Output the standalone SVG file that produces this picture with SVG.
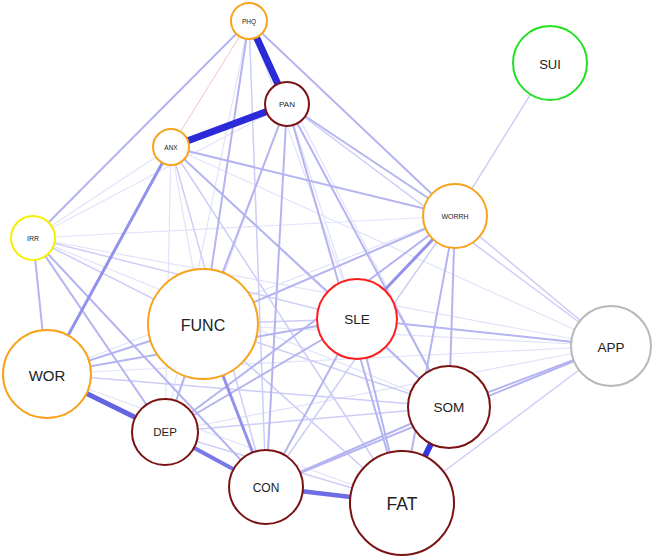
<svg xmlns="http://www.w3.org/2000/svg" width="655" height="557" viewBox="0 0 655 557">
<style>
.bg{fill:#ffffff}
line{stroke-linecap:round}
.e1{stroke:#e2e2fb;stroke-width:1.2}
.e2{stroke:#cdcdf7;stroke-width:1.5}
.e3{stroke:#b4b4f1;stroke-width:2}
.e4{stroke:#9292eb;stroke-width:3}
.s1{stroke:#2a2ad8;stroke-width:7}
.s2{stroke:#3636e0;stroke-width:6}
.s3{stroke:#6464e2;stroke-width:5}
.s4{stroke:#6e6ee4;stroke-width:4.5}
.s5{stroke:#7878e6;stroke-width:4}
.red{stroke:#f4c4c4;stroke-width:1}
circle{fill:#ffffff;stroke-width:2}
.or{stroke:#f8a31c}
.mr{stroke:#7a1212}
.rd{stroke:#ff1c1c}
.ye{stroke:#f6f000}
.gr{stroke:#22e022}
.gy{stroke:#b8b8b8}
text{font-family:"Liberation Sans",Arial,Helvetica,sans-serif;fill:#222222;text-anchor:middle;dominant-baseline:central}
</style>
<rect class="bg" x="0" y="0" width="655" height="557"/>
<g id="connectors">
<line class="e1" x1="33" y1="238" x2="287" y2="104"/>
<line class="e1" x1="33" y1="238" x2="171" y2="147"/>
<line class="e1" x1="33" y1="238" x2="449" y2="407"/>
<line class="e1" x1="33" y1="238" x2="455" y2="216"/>
<line class="e1" x1="33" y1="238" x2="611" y2="346"/>
<line class="e1" x1="171" y1="147" x2="203" y2="324"/>
<line class="e1" x1="171" y1="147" x2="165" y2="432"/>
<line class="e1" x1="171" y1="147" x2="449" y2="407"/>
<line class="e1" x1="171" y1="147" x2="611" y2="346"/>
<line class="e1" x1="249" y1="21" x2="357" y2="319"/>
<line class="e1" x1="249" y1="21" x2="165" y2="432"/>
<line class="e1" x1="249" y1="21" x2="449" y2="407"/>
<line class="e1" x1="287" y1="104" x2="357" y2="319"/>
<line class="e1" x1="287" y1="104" x2="165" y2="432"/>
<line class="e1" x1="203" y1="324" x2="611" y2="346"/>
<line class="e1" x1="47" y1="374" x2="611" y2="346"/>
<line class="e1" x1="47" y1="374" x2="266" y2="487"/>
<line class="e1" x1="47" y1="374" x2="402" y2="503"/>
<line class="e1" x1="165" y1="432" x2="611" y2="346"/>
<line class="e1" x1="47" y1="374" x2="455" y2="216"/>
<line class="e2" x1="33" y1="238" x2="203" y2="324"/>
<line class="e2" x1="33" y1="238" x2="357" y2="319"/>
<line class="e2" x1="47" y1="374" x2="449" y2="407"/>
<line class="e2" x1="165" y1="432" x2="449" y2="407"/>
<line class="e2" x1="165" y1="432" x2="402" y2="503"/>
<line class="e2" x1="203" y1="324" x2="357" y2="319"/>
<line class="e2" x1="203" y1="324" x2="449" y2="407"/>
<line class="e2" x1="249" y1="21" x2="266" y2="487"/>
<line class="e2" x1="171" y1="147" x2="402" y2="503"/>
<line class="e2" x1="171" y1="147" x2="266" y2="487"/>
<line class="e2" x1="266" y1="487" x2="455" y2="216"/>
<line class="e2" x1="455" y1="216" x2="611" y2="346"/>
<line class="e2" x1="287" y1="104" x2="611" y2="346"/>
<line class="e2" x1="203" y1="324" x2="402" y2="503"/>
<line class="e2" x1="550" y1="63" x2="455" y2="216"/>
<line class="e2" x1="402" y1="503" x2="611" y2="346"/>
<line class="red" x1="249" y1="21" x2="171" y2="147"/>
<line class="e3" x1="249" y1="21" x2="33" y2="238"/>
<line class="e3" x1="33" y1="238" x2="47" y2="374"/>
<line class="e3" x1="33" y1="238" x2="165" y2="432"/>
<line class="e3" x1="33" y1="238" x2="266" y2="487"/>
<line class="e3" x1="287" y1="104" x2="266" y2="487"/>
<line class="e3" x1="287" y1="104" x2="449" y2="407"/>
<line class="e3" x1="287" y1="104" x2="455" y2="216"/>
<line class="e3" x1="249" y1="21" x2="455" y2="216"/>
<line class="e3" x1="171" y1="147" x2="455" y2="216"/>
<line class="e3" x1="171" y1="147" x2="357" y2="319"/>
<line class="e3" x1="357" y1="319" x2="611" y2="346"/>
<line class="e3" x1="449" y1="407" x2="611" y2="346"/>
<line class="e3" x1="266" y1="487" x2="611" y2="346"/>
<line class="e3" x1="455" y1="216" x2="449" y2="407"/>
<line class="e3" x1="455" y1="216" x2="402" y2="503"/>
<line class="e3" x1="357" y1="319" x2="402" y2="503"/>
<line class="e3" x1="357" y1="319" x2="266" y2="487"/>
<line class="e3" x1="165" y1="432" x2="357" y2="319"/>
<line class="e3" x1="165" y1="432" x2="455" y2="216"/>
<line class="e3" x1="165" y1="432" x2="203" y2="324"/>
<line class="e3" x1="357" y1="319" x2="449" y2="407"/>
<line class="e3" x1="249" y1="21" x2="203" y2="324"/>
<line class="e3" x1="287" y1="104" x2="203" y2="324"/>
<line class="e3" x1="287" y1="104" x2="402" y2="503"/>
<line class="e3" x1="47" y1="374" x2="203" y2="324"/>
<line class="e3" x1="47" y1="374" x2="357" y2="319"/>
<line class="e3" x1="266" y1="487" x2="449" y2="407"/>
<line class="e3" x1="203" y1="324" x2="455" y2="216"/>
<line class="e4" x1="171" y1="147" x2="47" y2="374"/>
<line class="e4" x1="203" y1="324" x2="266" y2="487"/>
<line class="e4" x1="455" y1="216" x2="357" y2="319"/>
<line class="s5" x1="165" y1="432" x2="266" y2="487"/>
<line class="s4" x1="266" y1="487" x2="402" y2="503"/>
<line class="s3" x1="47" y1="374" x2="165" y2="432"/>
<line class="s2" x1="449" y1="407" x2="402" y2="503"/>
<line class="s1" x1="249" y1="21" x2="287" y2="104"/>
<line class="s1" x1="287" y1="104" x2="171" y2="147"/>
</g>
<g id="node-PHQ"><circle class="or" cx="249" cy="21" r="18"/><text x="249" y="21" font-size="6.5">PHQ</text></g>
<g id="node-PAN"><circle class="mr" cx="287" cy="104" r="22"/><text x="287" y="104" font-size="8">PAN</text></g>
<g id="node-ANX"><circle class="or" cx="171" cy="147" r="18"/><text x="171" y="147" font-size="6.5">ANX</text></g>
<g id="node-SUI"><circle class="gr" cx="550" cy="63" r="37"/><text x="550" y="64" font-size="13">SUI</text></g>
<g id="node-WORRH"><circle class="or" cx="455" cy="216" r="32"/><text x="455" y="216" font-size="7">WORRH</text></g>
<g id="node-IRR"><circle class="ye" cx="33" cy="238" r="22"/><text x="33" y="238" font-size="7">IRR</text></g>
<g id="node-FUNC"><circle class="or" cx="203" cy="324" r="55"/><text x="203" y="325" font-size="16">FUNC</text></g>
<g id="node-SLE"><circle class="rd" cx="357" cy="319" r="40"/><text x="357" y="319" font-size="13.5">SLE</text></g>
<g id="node-APP"><circle class="gy" cx="611" cy="346" r="40"/><text x="611" y="347" font-size="13.5">APP</text></g>
<g id="node-WOR"><circle class="or" cx="47" cy="374" r="44"/><text x="47" y="375" font-size="15">WOR</text></g>
<g id="node-SOM"><circle class="mr" cx="449" cy="407" r="41"/><text x="449" y="407" font-size="13.5">SOM</text></g>
<g id="node-DEP"><circle class="mr" cx="165" cy="432" r="33"/><text x="165" y="432" font-size="11.5">DEP</text></g>
<g id="node-CON"><circle class="mr" cx="266" cy="487" r="37"/><text x="266" y="488" font-size="12">CON</text></g>
<g id="node-FAT"><circle class="mr" cx="402" cy="503" r="52"/><text x="402" y="504" font-size="17.5">FAT</text></g>
</svg>
